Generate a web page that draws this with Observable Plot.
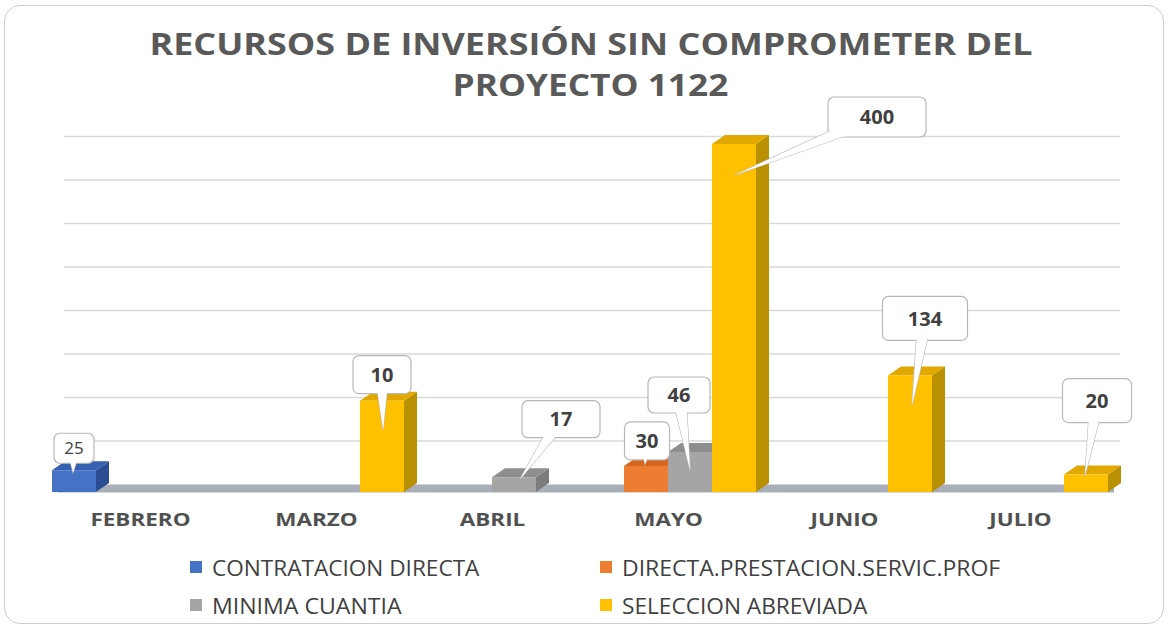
<!DOCTYPE html>
<html>
<head>
<meta charset="utf-8">
<script src="https://cdn.jsdelivr.net/npm/d3@7"></script>
<script src="https://cdn.jsdelivr.net/npm/@observablehq/plot@0.6"></script>
<style>
  html, body { margin: 0; padding: 0; background: #fff; }
  body { font-family: "Open Sans", "Liberation Sans", sans-serif; }
  #page { position: relative; width: 1169px; height: 630px; overflow: hidden; }
  #frame { position: absolute; left: 4px; top: 5px; width: 1160px; height: 619px; box-sizing: border-box;
           border: 1.5px solid #cfcfcf; border-radius: 16px; pointer-events: none; }
  #title { height: 95px; box-sizing: border-box; padding-top: 23px; padding-left: 12px; text-align: center;
           color: #595959; font-weight: 700; font-size: 30px; line-height: 41px; white-space: nowrap; }
  #title .line span { display: inline-block; transform-origin: 50% 50%; }
  #chart svg { display: block; background: transparent; overflow: visible; }
  #legend { box-sizing: border-box; padding-top: 8px; padding-left: 190px; display: grid;
            grid-template-columns: 410px auto; grid-auto-rows: 38px; color: #404040; font-size: 22px; }
  #legend .item { display: flex; align-items: center; white-space: nowrap; }
  #legend .sw { width: 12px; height: 12px; margin-right: 10px; flex: none; }
  #legend .txt { display: inline-block; transform-origin: 0 50%; }
</style>
</head>
<body>
<div id="page">
  <div id="title">
    <div class="line"><span data-w="883">RECURSOS DE INVERSIÓN SIN COMPROMETER DEL</span></div>
    <div class="line"><span data-w="276">PROYECTO 1122</span></div>
  </div>
  <div id="chart"></div>
  <div id="legend"></div>
  <div id="frame"></div>
</div>
<script>
// ---- data ----
const months = ["FEBRERO", "MARZO", "ABRIL", "MAYO", "JUNIO", "JULIO"];
const series = ["CONTRATACION DIRECTA", "DIRECTA.PRESTACION.SERVIC.PROF", "MINIMA CUANTIA", "SELECCION ABREVIADA"];
const seriesColors = ["#4472C4", "#ED7D31", "#A5A5A5", "#FFC000"];
const barMonths = ["FEBRERO", "MARZO", "ABRIL", "MAYO", "MAYO", "MAYO", "JUNIO", "JULIO"];
const barSeries = ["CONTRATACION DIRECTA", "SELECCION ABREVIADA", "MINIMA CUANTIA",
                   "DIRECTA.PRESTACION.SERVIC.PROF", "MINIMA CUANTIA", "SELECCION ABREVIADA",
                   "SELECCION ABREVIADA", "SELECCION ABREVIADA"];
const barHeights = [25, 105, 17, 30, 46, 400, 134, 20];
const barLabels = ["25", "10", "17", "30", "46", "400", "134", "20"];
const gridTicks = [50, 100, 150, 200, 250, 300, 350, 400];

// ---- styling (not data) ----
const topColors = ["#3560B0", "#D5661C", "#8E8E8E", "#E0A800"];
const sideColors = ["#2B4D94", "#B9561A", "#7C7C7C", "#B99000"];
const depth = {dx: 13, dy: -9};
// callout box offset from bar top centre, box size, tail tip offset, font
const calloutStyle = [
  {dx: 0,   dy: -22, w: 40, h: 30, tx: -1, ty: 2,  fs: 17, fw: 400},
  {dx: 0,   dy: -26, w: 58, h: 38, tx: 1,  ty: 29, fs: 20, fw: 700},
  {dx: 47,  dy: -58, w: 78, h: 37, tx: 6,  ty: 2,  fs: 20, fw: 700},
  {dx: 1,   dy: -25, w: 45, h: 38, tx: -1, ty: -2, fs: 20, fw: 700},
  {dx: -11, dy: -57, w: 62, h: 36, tx: 0,  ty: 18, fs: 20, fw: 700},
  {dx: 143, dy: -27, w: 98, h: 40, tx: 1,  ty: 31, fs: 20, fw: 700},
  {dx: 15,  dy: -57, w: 85, h: 44, tx: 2,  ty: 30, fs: 20, fw: 700},
  {dx: 11,  dy: -74, w: 69, h: 44, tx: -1, ty: 1,  fs: 20, fw: 700}
];
const axisStretch = 1.32;

const bars = barMonths.map((m, i) => ({month: m, series: barSeries[i], value: barHeights[i], label: barLabels[i]}));

function subBand(scales) {
  return d3.scaleBand(series, [0, scales.x.bandwidth()]).padding(0);
}

function bars3d(index, scales, values) {
  const g = d3.create("svg:g").attr("aria-label", "bar3d");
  const sub = subBand(scales);
  const w = sub.bandwidth();
  const order = Array.from(index).sort((a, b) =>
    (values.x[a] + sub(bars[a].series)) - (values.x[b] + sub(bars[b].series)));
  const {dx, dy} = depth;
  for (const i of order) {
    const s = series.indexOf(bars[i].series);
    const x0 = values.x[i] + sub(bars[i].series), x1 = x0 + w;
    const yT = Math.min(values.y1[i], values.y2[i]), yB = Math.max(values.y1[i], values.y2[i]);
    g.append("path").attr("fill", sideColors[s])
      .attr("d", `M${x1},${yB}L${x1 + dx},${yB + dy}L${x1 + dx},${yT + dy}L${x1},${yT}Z`);
    g.append("path").attr("fill", topColors[s])
      .attr("d", `M${x0},${yT}L${x0 + dx},${yT + dy}L${x1 + dx},${yT + dy}L${x1},${yT}Z`);
    g.append("rect").attr("fill", values.fill ? values.fill[i] : seriesColors[s])
      .attr("x", x0).attr("y", yT).attr("width", w).attr("height", yB - yT);
  }
  return g.node();
}

function callouts(index, scales, values) {
  const g = d3.create("svg:g").attr("aria-label", "callouts");
  const sub = subBand(scales);
  const w = sub.bandwidth();
  for (const i of index) {
    const st = calloutStyle[i];
    const cx = values.x[i] + sub(bars[i].series) + w / 2;
    const top = values.y[i];
    const bx = cx + st.dx, by = top + st.dy;
    const tx = cx + st.tx, ty = top + st.ty;
    const ang = Math.atan2(ty - by, tx - bx);
    const hw = 7;
    const px = -Math.sin(ang) * hw, py = Math.cos(ang) * hw;
    const tail = `M${bx + px},${by + py}L${tx},${ty}L${bx - px},${by - py}Z`;
    g.append("path").attr("d", tail).attr("fill", "#fff").attr("stroke", "#b8b8b8").attr("stroke-width", 1.2);
    g.append("rect").attr("x", bx - st.w / 2).attr("y", by - st.h / 2).attr("width", st.w).attr("height", st.h)
      .attr("rx", 6).attr("fill", "#fff").attr("stroke", "#b8b8b8").attr("stroke-width", 1.2);
    g.append("path").attr("d", tail).attr("fill", "#fff");
    g.append("text").attr("x", bx).attr("y", by).attr("text-anchor", "middle").attr("dy", "0.36em")
      .attr("font-size", st.fs).attr("font-weight", st.fw).attr("fill", "#404040")
      .attr("font-family", "'Open Sans', sans-serif").text(values.text ? values.text[i] : bars[i].label);
  }
  return g.node();
}

const chart = Plot.plot({
  width: 1169,
  height: 445,
  marginTop: 49,
  marginBottom: 48,
  marginLeft: 52,
  marginRight: 61,
  style: {background: "transparent", fontFamily: "'Open Sans', sans-serif", overflow: "visible"},
  x: {domain: months, padding: 0, axis: null},
  y: {domain: [0, 400], axis: null},
  color: {domain: series, range: seriesColors},
  marks: [
    Plot.ruleY(gridTicks, {stroke: "#d9d9d9", strokeWidth: 1.5, dx: 12, dy: -8}),
    Plot.ruleY([0], {stroke: "#a9afb8", strokeWidth: 8, dx: 6, dy: -4}),
    Plot.barY(bars, {x: "month", y1: () => 0, y2: "value", fill: "series", render: bars3d}),
    Plot.text(bars, {x: "month", y: "value", text: "label", render: callouts}),
    Plot.axisX({anchor: "bottom", tickSize: 0, tickPadding: 21, fontSize: 17, fontWeight: 700,
                color: "#505050", label: null})
  ]
});
document.getElementById("chart").appendChild(chart);

// legend
const legend = d3.select("#legend");
const legendWidths = [267, 378, 190, 245];
series.forEach((s, i) => {
  const item = legend.append("div").attr("class", "item");
  item.append("span").attr("class", "sw").style("background", seriesColors[i]);
  item.append("span").attr("class", "txt").attr("data-w", legendWidths[i]).text(s);
});

function fitAll() {
  document.querySelectorAll("[data-w]").forEach(el => {
    el.style.transform = "none";
    const w = el.offsetWidth;
    const target = +el.getAttribute("data-w");
    if (w > 0) el.style.transform = `scaleX(${target / w})`;
  });
  // widen the month labels to the reference's proportions
  d3.select(chart).selectAll('g[aria-label="x-axis tick label"] text').each(function () {
    this.removeAttribute("textLength");
    const len = this.getComputedTextLength();
    if (len > 0) {
      this.setAttribute("textLength", len * axisStretch);
      this.setAttribute("lengthAdjust", "spacingAndGlyphs");
    }
  });
}
fitAll();
if (document.fonts && document.fonts.ready) document.fonts.ready.then(fitAll);
</script>
</body>
</html>
